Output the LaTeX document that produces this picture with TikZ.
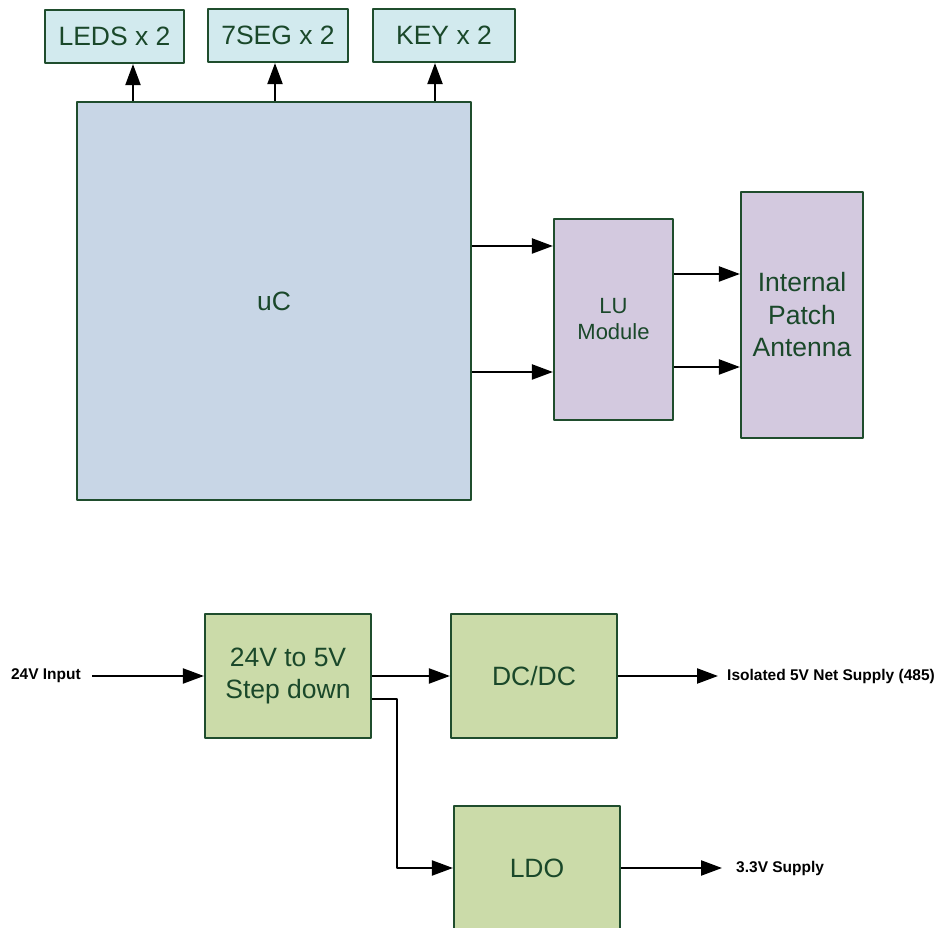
\documentclass[tikz,border=0pt]{standalone}
\usepackage{fontspec}
\setmainfont{Liberation Sans}
\usetikzlibrary{arrows.meta}

\definecolor{boxline}{RGB}{31,77,45}
\definecolor{boxtext}{RGB}{26,72,42}
\definecolor{cyanfill}{RGB}{210,234,238}
\definecolor{bluefill}{RGB}{200,214,230}
\definecolor{violetfill}{RGB}{211,201,223}
\definecolor{greenfill}{RGB}{203,219,169}

\begin{document}
\begin{tikzpicture}[>={Triangle[length=21bp,width=15bp]},line join=bevel,
  blk/.style={draw=boxline,text=boxtext,align=center,inner sep=0pt,line width=2.2bp,
    font=\fontsize{26.5bp}{32.5bp}\selectfont},
  lbl/.style={inner sep=0pt,font=\fontsize{15.5bp}{18bp}\selectfont\bfseries},
  wire/.style={->,line width=2.2bp,black},
]
\useasboundingbox (0bp,0bp) rectangle (938bp,928bp);

% Node: leds
\node [blk,fill=cyanfill,minimum width=139bp,minimum height=53bp] (leds) at (114.5bp,891.5bp) {LEDS x 2};
% Node: seg
\node [blk,fill=cyanfill,minimum width=140bp,minimum height=53bp] (seg) at (278bp,892.5bp) {7SEG x 2};
% Node: key
\node [blk,fill=cyanfill,minimum width=142bp,minimum height=53bp] (key) at (444bp,892.5bp) {KEY x 2};

% Node: uc
\node [blk,fill=bluefill,minimum width=394bp,minimum height=398bp] (uc) at (274bp,627bp) {uC};

% Node: lu
\node [blk,fill=violetfill,minimum width=119bp,minimum height=201bp,
  font=\fontsize{22bp}{26bp}\selectfont] (lu) at (613.5bp,608.5bp) {LU\\Module};
% Node: ant
\node [blk,fill=violetfill,minimum width=122bp,minimum height=246bp] (ant) at (802bp,613bp) {Internal\\Patch\\Antenna};

% Edge: uc -> leds, seg, key
\draw [wire] (uc.north -| 133bp,0) -- (133bp,0 |- leds.south);
\draw [wire] (uc.north -| 275bp,0) -- (275bp,0 |- seg.south);
\draw [wire] (uc.north -| 435bp,0) -- (435bp,0 |- key.south);

% Edge: uc -> lu
\draw [wire] (uc.east |- 0,682bp) -- (lu.west |- 0,682bp);
\draw [wire] (uc.east |- 0,556bp) -- (lu.west |- 0,556bp);

% Edge: lu -> ant
\draw [wire] (lu.east |- 0,654bp) -- (ant.west |- 0,654bp);
\draw [wire] (lu.east |- 0,561bp) -- (ant.west |- 0,561bp);

% Node: buck
\node [blk,fill=greenfill,minimum width=166bp,minimum height=124bp] (buck) at (288bp,252bp) {24V to 5V\\Step down};
% Node: dcdc
\node [blk,fill=greenfill,minimum width=166bp,minimum height=124bp] (dcdc) at (534bp,252bp) {DC/DC};
% Node: ldo
\node [blk,fill=greenfill,minimum width=166bp,minimum height=124bp] (ldo) at (537bp,60bp) {LDO};

% Node: labels
\node [lbl,anchor=east] (vin) at (81bp,252bp) {24V Input};
\node [lbl,anchor=west] (iso) at (727bp,252bp) {Isolated 5V Net Supply (485)};
\node [lbl,anchor=west] (vdd) at (736bp,60bp) {3.3V Supply};

% Edge: vin -> buck
\draw [wire] ([xshift=11bp]vin.east) -- (buck.west);
% Edge: buck -> dcdc
\draw [wire] (buck.east) -- (dcdc.west);
% Edge: buck -> ldo
\draw [wire] ([yshift=-23bp]buck.east) -| ([xshift=-56bp]ldo.west) -- (ldo.west);
% Edge: dcdc -> iso
\draw [wire] (dcdc.east) -- ([xshift=-9bp]iso.west);
% Edge: ldo -> vdd
\draw [wire] (ldo.east) -- ([xshift=-14bp]vdd.west);
%
\end{tikzpicture}
\end{document}
